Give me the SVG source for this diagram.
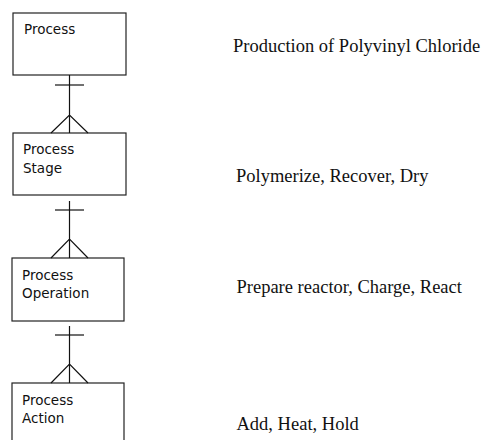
<svg xmlns="http://www.w3.org/2000/svg" width="485" height="440" viewBox="0 0 485 440">
  <style>
    .box { fill: #ffffff; stroke: #222222; stroke-width: 1.2; }
    .lbl { font-family: "DejaVu Sans", Verdana, sans-serif; font-size: 13.5px; fill: #111111; }
    .desc { font-family: "Liberation Serif", "Times New Roman", serif; font-size: 18.5px; fill: #111111; }
    .conn line, .conn polyline { stroke: #111111; stroke-width: 1.2; fill: none; }
  </style>
  <rect width="485" height="440" fill="#ffffff"/>

  <g id="process">
    <rect class="box" x="13" y="13" width="113" height="62"/>
    <text class="lbl" x="24" y="34">Process</text>
  </g>
  <g id="process-stage">
    <rect class="box" x="13" y="133" width="113" height="62"/>
    <text class="lbl" x="23" y="154">Process</text>
    <text class="lbl" x="23" y="172.5">Stage</text>
  </g>
  <g id="process-operation">
    <rect class="box" x="12" y="258" width="112" height="63"/>
    <text class="lbl" x="22" y="279.5">Process</text>
    <text class="lbl" x="22" y="297.5">Operation</text>
  </g>
  <g id="process-action">
    <rect class="box" x="12" y="383" width="112" height="70"/>
    <text class="lbl" x="22" y="405">Process</text>
    <text class="lbl" x="22" y="423">Action</text>
  </g>

  <!-- one-to-many links: bar on the parent side, crow's foot on the child side -->
  <g id="connectors" class="conn">
    <line x1="69.5" y1="75" x2="69.5" y2="133"/>
    <line x1="55" y1="85" x2="84" y2="85"/>
    <polyline points="51,133 69.5,115 88,133"/>

    <line x1="69.5" y1="201" x2="69.5" y2="258"/>
    <line x1="55" y1="210" x2="84" y2="210"/>
    <polyline points="51,258 69.5,239 88,258"/>

    <line x1="69.5" y1="326" x2="69.5" y2="383"/>
    <line x1="55" y1="335" x2="84" y2="335"/>
    <polyline points="51,383 69.5,364 88,383"/>
  </g>

  <g id="descriptions">
    <text class="desc" x="233" y="51.5">Production of Polyvinyl Chloride</text>
    <text class="desc" x="236" y="182">Polymerize, Recover, Dry</text>
    <text class="desc" x="236.5" y="293">Prepare reactor, Charge, React</text>
    <text class="desc" x="236.5" y="430">Add, Heat, Hold</text>
  </g>
</svg>
